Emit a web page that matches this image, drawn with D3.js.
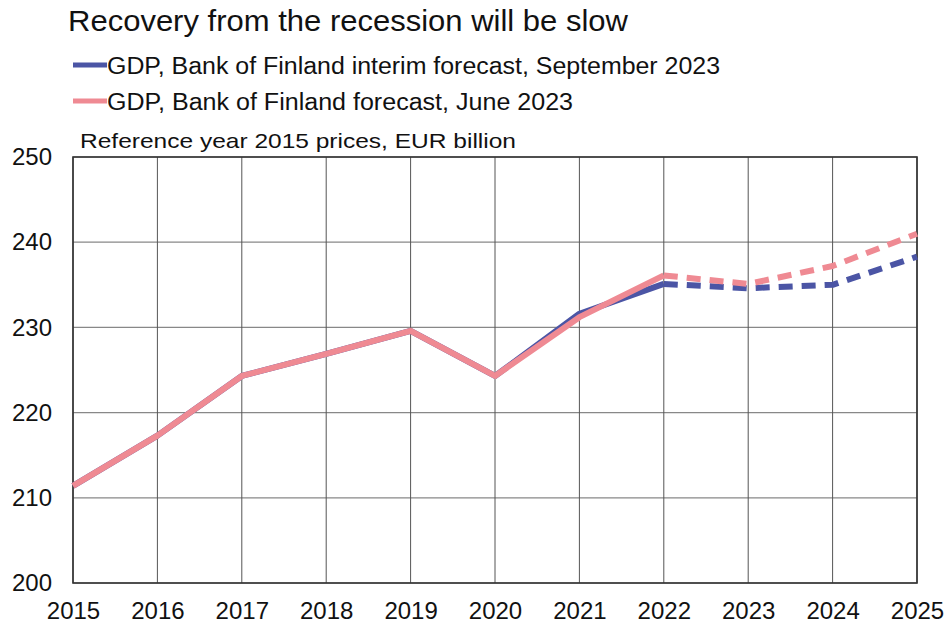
<!DOCTYPE html>
<html>
<head>
<meta charset="utf-8">
<script src="https://cdn.jsdelivr.net/npm/d3@7"></script>
<style>
  body { margin: 0; background: #fff; }
  svg { display: block; font-family: "Liberation Sans", Arial, sans-serif; }
</style>
</head>
<body>
<div id="chart"></div>
<script>
const width = 946;
const height = 625;
const margin = {top: 157, left: 73, bottom: 42, right: 29};

// data
const years = [2015, 2016, 2017, 2018, 2019, 2020, 2021, 2022, 2023, 2024, 2025];
const gdpSeptember = [211.4, 217.3, 224.3, 226.9, 229.6, 224.3, 231.6, 235.1, 234.6, 235.0, 238.3];
const gdpJune      = [211.4, 217.3, 224.3, 226.9, 229.6, 224.3, 231.2, 236.1, 235.1, 237.2, 241.0];
const lastActual = 2022;   // forecasts dashed from here on
const yTicks = [200, 210, 220, 230, 240, 250];

const seriesNames = [
  'GDP, Bank of Finland interim forecast, September 2023',
  'GDP, Bank of Finland forecast, June 2023'
];
const seriesColors = ['#4b55a5', '#ef8a93'];
// widths of the legend texts in the original picture
const legendTextWidths = [613, 466];

const x = d3.scaleLinear()
  .domain([2015, 2025])
  .range([margin.left, width - margin.right]);

const y = d3.scaleLinear()
  .domain([200, 250])
  .range([height - margin.bottom, margin.top]);

const svg = d3.select('#chart').append('svg')
  .attr('width', width)
  .attr('height', height);

// title, legend, unit
svg.append('text')
  .attr('x', 68).attr('y', 31)
  .attr('font-size', 30)
  .attr('fill', '#111')
  .attr('textLength', 560).attr('lengthAdjust', 'spacingAndGlyphs')
  .text('Recovery from the recession will be slow');

const legend = svg.append('g').selectAll('g')
  .data(seriesNames).enter().append('g')
  .attr('transform', (d, i) => `translate(73, ${65 + i * 36})`);
legend.append('line')
  .attr('x1', 0).attr('x2', 34)
  .attr('stroke', (d, i) => seriesColors[i])
  .attr('stroke-width', 5);
legend.append('text')
  .attr('x', 34).attr('y', 8.5)
  .attr('font-size', 23.5)
  .attr('fill', '#111')
  .attr('textLength', (d, i) => legendTextWidths[i]).attr('lengthAdjust', 'spacingAndGlyphs')
  .text(d => d);

svg.append('text')
  .attr('x', 80).attr('y', 148)
  .attr('font-size', 21)
  .attr('fill', '#111')
  .attr('textLength', 436).attr('lengthAdjust', 'spacingAndGlyphs')
  .text('Reference year 2015 prices, EUR billion');

// grid
const grid = svg.append('g');
grid.selectAll('.hy').data(yTicks).enter().append('line')
  .attr('x1', margin.left).attr('x2', width - margin.right)
  .attr('y1', d => y(d)).attr('y2', d => y(d))
  .attr('stroke', '#888').attr('stroke-width', 1.2);
grid.selectAll('.vx').data(years).enter().append('line')
  .attr('x1', d => x(d)).attr('x2', d => x(d))
  .attr('y1', margin.top).attr('y2', height - margin.bottom)
  .attr('stroke', '#555').attr('stroke-width', 1);

// axes
const xAxis = g => g
  .attr('transform', `translate(0, ${height - margin.bottom})`)
  .call(d3.axisBottom(x).tickValues(years).tickFormat(d3.format('d')).tickSize(0).tickPadding(19))
  .call(g => g.select('.domain').remove())
  .call(g => g.selectAll('text').attr('font-size', 24).attr('fill', '#111')
    .attr('font-family', '"Liberation Sans", Arial, sans-serif'));

const yAxis = g => g
  .attr('transform', `translate(${margin.left}, 0)`)
  .call(d3.axisLeft(y).tickValues(yTicks).tickSize(0).tickPadding(21))
  .call(g => g.select('.domain').remove())
  .call(g => g.selectAll('text').attr('font-size', 24).attr('fill', '#111')
    .attr('font-family', '"Liberation Sans", Arial, sans-serif'));

svg.append('g').call(xAxis);
svg.append('g').call(yAxis);

// plot frame
svg.append('rect')
  .attr('x', margin.left).attr('y', margin.top)
  .attr('width', width - margin.left - margin.right)
  .attr('height', height - margin.top - margin.bottom)
  .attr('fill', 'none').attr('stroke', '#333').attr('stroke-width', 1.6);

// lines
const line = d3.line()
  .x(d => x(d.year))
  .y(d => y(d.value));

const seriesValues = [gdpSeptember, gdpJune];
seriesValues.forEach((vals, i) => {
  const pts = years.map((yr, j) => ({year: yr, value: vals[j]}));
  const actual = pts.filter(d => d.year <= lastActual);
  const fcst = pts.filter(d => d.year >= lastActual);
  svg.append('path').datum(actual)
    .attr('d', line)
    .attr('fill', 'none')
    .attr('stroke', seriesColors[i])
    .attr('stroke-width', 6)
    .attr('stroke-linejoin', 'round');
  svg.append('path').datum(fcst)
    .attr('d', line)
    .attr('fill', 'none')
    .attr('stroke', seriesColors[i])
    .attr('stroke-width', 6)
    .attr('stroke-dasharray', '14 9')
    .attr('stroke-linejoin', 'round');
});
</script>
</body>
</html>
